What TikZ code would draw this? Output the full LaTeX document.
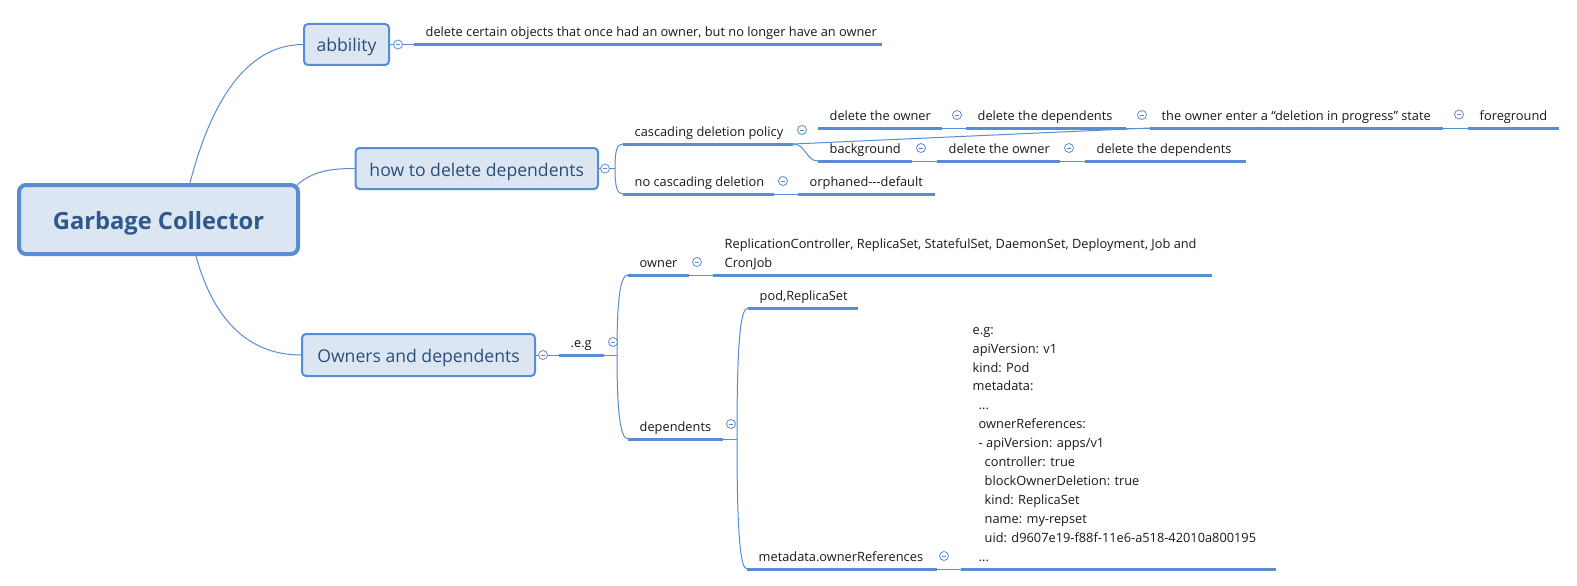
\documentclass[tikz,border=0pt]{standalone}
\usepackage{fontspec}
\setmainfont{Open Sans}
\definecolor{lb}{RGB}{88,141,212}
\definecolor{boxfill}{RGB}{220,230,243}
\definecolor{boxtext}{RGB}{44,77,120}
\definecolor{roottext}{RGB}{47,88,140}
\definecolor{txt}{RGB}{25,25,25}
\tikzset{
  rootbox/.style={draw=lb, line width=4pt, fill=boxfill, rounded corners=7pt, inner sep=0pt,
    minimum width=279pt, minimum height=69pt, font=\fontsize{23.7}{28}\selectfont\bfseries, text=roottext,
    text height=20pt, text depth=0pt},
  mainbox/.style={draw=lb, line width=2pt, fill=boxfill, rounded corners=4pt, inner sep=0pt,
    font=\fontsize{17.6}{20}\selectfont, text=boxtext, text height=15pt, text depth=0pt},
  lbl/.style={inner sep=0pt, anchor=base west, font=\fontsize{12.8}{19}\selectfont, text=txt},
  ul/.style={draw=lb, line width=3pt},
  conn/.style={draw=lb, line width=1pt},
  coll/.style={circle, draw=lb, fill=white, line width=0.8pt, minimum size=9pt, inner sep=0pt,
    path picture={\draw[lb, line width=0.8pt] ([xshift=-2.3pt]path picture bounding box.center) -- ([xshift=2.3pt]path picture bounding box.center);}},
}
\newcommand\mmleaf[5]{%
  \coordinate (#1-s) at (#2,#4);
  \coordinate (#1-e) at (#3,#4);
  \draw[ul] (#1-s) -- (#1-e);
  \node[lbl] (#1) at (#2+11.5,#4-8) {#5};
}
\begin{document}
\begin{tikzpicture}[x=1pt,y=-1pt]
\fill[white] (0,0) rectangle (1577,586);
\useasboundingbox (0,0) rectangle (1577,586);

% main boxes
\node[rootbox] (root) at (158.5,219.5) {Garbage Collector};
\node[mainbox, minimum width=85pt, minimum height=41pt] (abb) at (346.5,44.5) {abbility};
\node[mainbox, minimum width=242.5pt, minimum height=41pt] (how) at (476.75,168.5) {how to delete dependents};
\node[mainbox, minimum width=233pt, minimum height=42pt] (own) at (418.5,355) {Owners and dependents};

% root connectors
\draw[conn] ([xshift=31.5pt]root.north) .. controls (210,105) and (245,44.5) .. (abb.west);
\draw[conn] ([shift={(-3pt,-2pt)}]root.north east) .. controls (312,172) and (328,168.5) .. (how.west);
\draw[conn] ([xshift=37.5pt]root.south) .. controls (212,315) and (245,355) .. (own.west);

% abbility
\mmleaf{abbc}{414}{882}{44.5}{delete certain objects that once had an owner, but no longer have an owner}
\draw[conn] (abb.east) -- (abbc-s);
\node[coll] (cabb) at (398,44.5) {};

% how to delete dependents
\mmleaf{casc}{623}{793}{144}{cascading deletion policy}
\mmleaf{nocasc}{623}{774}{194}{no cascading deletion}
\mmleaf{orph}{798}{935}{194}{orphaned-{}-{}-default}
\coordinate (howj) at (615,168.5);
\draw[conn] (how.east) -- (howj);
\draw[conn] (howj) .. controls (615,150) and (617,144) .. (casc-s);
\draw[conn] (howj) .. controls (615,187) and (617,194) .. (nocasc-s);
\draw[conn] (nocasc-e) -- (orph-s);
\node[coll] (chow) at (605,168.5) {};
\node[coll] (ccasc) at (802,130) {};
\node[coll] (cnocasc) at (783,181) {};

% row 1
\mmleaf{ua}{818}{942}{128}{delete the owner}
\mmleaf{ub}{966}{1126}{128}{delete the dependents}
\mmleaf{uc}{1150}{1443}{128}{the owner enter a “deletion in progress” state}
\mmleaf{ud}{1468}{1559}{128}{foreground}
\draw[conn] (ua-e) -- (ub-s);
\draw[conn] (ub-e) -- (uc-s);
\draw[conn] (uc-e) -- (ud-s);
\draw[conn] (casc-e) -- (uc-s);
\node[coll] (cua) at (957,115) {};
\node[coll] (cub) at (1142,115) {};
\node[coll] (cuc) at (1459,114.5) {};

% row 2
\mmleaf{va}{818}{912}{161}{background}
\mmleaf{vb}{937}{1060}{161}{delete the owner}
\mmleaf{vc}{1085}{1246}{161}{delete the dependents}
\draw[conn] (casc-e) .. controls (806,144) and (806,161) .. (va-s);
\draw[conn] (va-e) -- (vb-s);
\draw[conn] (vb-e) -- (vc-s);
\node[coll] (cva) at (921,148) {};
\node[coll] (cvb) at (1069,148) {};

% owners and dependents
\mmleaf{eg}{559}{604}{355}{.e.g}
\draw[conn] (own.east) -- (eg-s);
\node[coll] (cown) at (543,355) {};
\coordinate (egj) at (617,355);
\draw[conn] (eg-e) -- (egj);
\mmleaf{owner}{628}{689}{275}{owner}
\mmleaf{dep}{628}{723}{439}{dependents}
\draw[conn] (egj) .. controls (617,300) and (620,275) .. (owner-s);
\draw[conn] (egj) .. controls (617,410) and (620,439) .. (dep-s);
\node[coll] (ceg) at (613,342) {};

\mmleaf{rep}{713}{1212}{275}{\begin{tabular}[b]{@{}l@{}}ReplicationController, ReplicaSet, StatefulSet, DaemonSet, Deployment, Job and\\CronJob\end{tabular}}
\draw[conn] (owner-e) -- (rep-s);
\node[coll] (cowner) at (697,262) {};

\mmleaf{pod}{748}{858}{308}{pod,ReplicaSet}
\mmleaf{meta}{747}{937}{569}{metadata.ownerReferences}
\coordinate (depj) at (737,439);
\draw[conn] (dep-e) -- (depj);
\draw[conn] (depj) .. controls (737,345) and (740,308) .. (pod-s);
\draw[conn] (depj) .. controls (737,530) and (740,569) .. (meta-s);
\node[coll] (cdep) at (731,424) {};

\mmleaf{code}{961}{1276}{569}{\fontsize{12.8}{18.9}\selectfont\begin{tabular}[b]{@{}l@{}}
e.g:\\
apiVersion: v1\\
kind: Pod\\
metadata:\\
\hspace*{6pt}...\\
\hspace*{6pt}ownerReferences:\\
\hspace*{6pt}- apiVersion: apps/v1\\
\hspace*{12pt}controller: true\\
\hspace*{12pt}blockOwnerDeletion: true\\
\hspace*{12pt}kind: ReplicaSet\\
\hspace*{12pt}name: my-repset\\
\hspace*{12pt}uid: d9607e19-f88f-11e6-a518-42010a800195\\
\hspace*{6pt}...
\end{tabular}}
\draw[conn] (meta-e) -- (code-s);
\node[coll] (cmeta) at (944,556) {};
\end{tikzpicture}
\end{document}
